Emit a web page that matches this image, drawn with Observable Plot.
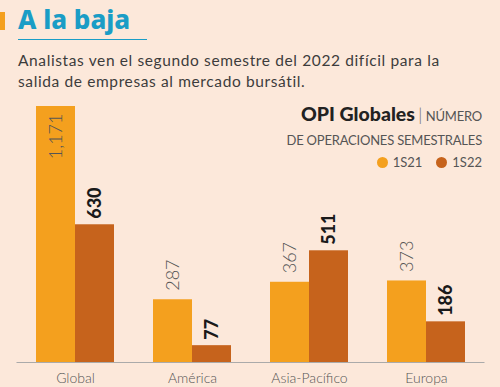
<!DOCTYPE html>
<html>
<head>
<meta charset="utf-8">
<script src="https://cdn.jsdelivr.net/npm/d3@7"></script>
<script src="https://cdn.jsdelivr.net/npm/@observablehq/plot@0.6"></script>
<style>
  html, body { margin: 0; padding: 0; }
  body { width: 500px; height: 387px; background: #fce8da; font-family: Lato, "Noto Sans", sans-serif; overflow: hidden; position: relative; }
  #header { position: relative; height: 95px; }
  #mark { position: absolute; left: 0; top: 12px; width: 5px; height: 18px; background: #f4a01e; }
  #title { position: absolute; left: 18px; top: 1px; font-family: "Noto Sans", Lato, sans-serif; font-weight: 800; font-size: 26px; color: #1a9dc6; letter-spacing: 0px; }
  #rule { position: absolute; left: 18px; top: 39px; width: 129px; height: 1px; background: #1a9dc6; }
  #subtitle { position: absolute; left: 18px; top: 50px; font-size: 15.5px; line-height: 21px; color: #3c3c3c; font-weight: 400; letter-spacing: 0.62px; }
  #legend { position: absolute; right: 18px; top: 101px; text-align: right; color: #555; font-size: 13px; line-height: 22px; }
  #legend .l1 { line-height: 25px; }
  #legend .lt { font-weight: 900; font-size: 19.5px; color: #222; }
  #legend .sep { font-weight: 300; font-size: 17px; color: #666; }
  #legend .up { font-weight: 400; letter-spacing: -0.2px; }
  #legend .sw { display: inline-block; width: 11px; height: 11px; border-radius: 50%; vertical-align: -1px; margin-right: 5px; }
  #legend .it { margin-left: 14px; font-weight: 400; }
  #chart { position: absolute; left: 0; top: 95px; }
</style>
</head>
<body>
<div id="header">
  <div id="mark"></div>
  <div id="title">A la baja</div>
  <div id="rule"></div>
  <div id="subtitle">Analistas ven el segundo semestre del 2022 difícil para la<br>salida de empresas al mercado bursátil.</div>
</div>
<div id="chart"></div>
<div id="legend"></div>
<script>
const categories = ["Global", "América", "Asia-Pacífico", "Europa"];
const seriesNames = ["1S21", "1S22"];
const values1S21 = [1171, 287, 367, 373];
const values1S22 = [630, 77, 511, 186];
const colors = ["#f4a01e", "#c6631c"];
const legendTitle = "OPI Globales";
const legendSub1 = "NÚMERO";
const legendSub2 = "DE OPERACIONES SEMESTRALES";

const fmt = d3.format(",");
const d21 = categories.map((c, i) => ({cat: c, v: values1S21[i], label: fmt(values1S21[i])}));
const d22 = categories.map((c, i) => ({cat: c, v: values1S22[i], label: fmt(values1S22[i])}));
const maxV = d3.max([...values1S21, ...values1S22]);

const chart = Plot.plot({
  width: 500,
  height: 292,
  marginTop: 11,
  marginBottom: 25,
  marginLeft: 16.5,
  marginRight: 15.5,
  style: {background: "transparent", fontFamily: "Lato, 'Noto Sans', sans-serif", fontSize: "14px", fontWeight: 300, color: "#555"},
  x: {domain: categories, paddingInner: 1/3, paddingOuter: 1/6, label: null, tickSize: 0, tickPadding: 11},
  y: {domain: [0, maxV], axis: null},
  marks: [
    Plot.barY(d21, {x: "cat", y: "v", fill: colors[0], insetRight: 39}),
    Plot.barY(d22, {x: "cat", y: "v", fill: colors[1], insetLeft: 39}),
    Plot.ruleY([0], {stroke: "#aaa", strokeWidth: 1}),
    Plot.text(d21.filter(d => d.v < maxV), {x: "cat", y: "v", text: "label", rotate: -90, textAnchor: "start", dx: -19.5, dy: -9, fontSize: 18, fontWeight: 300, fill: "#555"}),
    Plot.text(d21.filter(d => d.v >= maxV), {x: "cat", y: "v", text: "label", rotate: -90, textAnchor: "end", dx: -19.5, dy: 7, fontSize: 18, fontWeight: 300, fill: "#555"}),
    Plot.text(d22, {x: "cat", y: "v", text: "label", rotate: -90, textAnchor: "start", dx: 19.5, dy: -6, fontSize: 18, fontWeight: 900, fill: "#1a1a1a"})
  ]
});
document.getElementById("chart").appendChild(chart);

const lg = document.getElementById("legend");
lg.innerHTML = `<div class="l1"><span class="lt">${legendTitle}</span> <span class="sep">|</span> <span class="up">${legendSub1}</span></div>` +
  `<div class="up">${legendSub2}</div>` +
  `<div>` + seriesNames.map((s, i) => `<span class="it"><span class="sw" style="background:${colors[i]}"></span>${s}</span>`).join("") + `</div>`;
</script>
</body>
</html>
